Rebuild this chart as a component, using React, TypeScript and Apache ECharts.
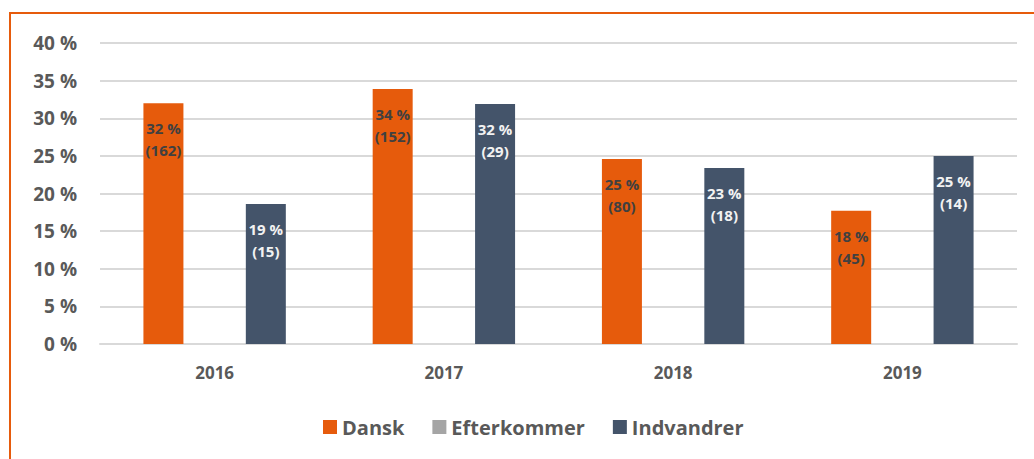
import React, { useEffect, useRef } from "react";
import * as echarts from "echarts";

const categories = ["2016", "2017", "2018", "2019"];
const seriesNames = ["Dansk", "Efterkommer", "Indvandrer"];
const danskValues = [32.0, 33.9, 24.6, 17.7];
const danskLabelPct = [32, 34, 25, 18];
const danskLabelN = [162, 152, 80, 45];
const efterkommerValues: (number | null)[] = [null, null, null, null];
const indvandrerValues = [18.6, 31.9, 23.4, 25.0];
const indvandrerLabelPct = [19, 32, 23, 25];
const indvandrerLabelN = [15, 29, 18, 14];
const yTicks = { min: 0, max: 40, interval: 5 };

const ORANGE = "#E65B0C";
const GREY = "#A5A5A5";
const SLATE = "#44546A";
const FONT = "'Open Sans', Lato, sans-serif";

export default function App() {
  const ref = useRef<HTMLDivElement>(null);
  useEffect(() => {
    document.body.style.margin = "0";
    if (!ref.current) return;
    const chart = echarts.init(ref.current, null, { renderer: "svg" });
    const labelStyle = (color: string, pct: number[], n: number[]) => ({
      show: true,
      position: "insideTop",
      distance: 14,
      color,
      fontFamily: FONT,
      fontWeight: "bold",
      fontSize: 15,
      lineHeight: 22,
      formatter: (p: any) => `${pct[p.dataIndex]} %\n(${n[p.dataIndex]})`,
    });
    chart.setOption({
      animation: false,
      backgroundColor: "#ffffff",
      textStyle: { fontFamily: FONT },
      grid: { left: 100, right: 17, top: 43, bottom: 115, containLabel: false },
      graphic: [
        {
          type: "rect",
          shape: { x: 10, y: 13, width: 1100, height: 600 },
          style: { fill: "none", stroke: ORANGE, lineWidth: 2 },
          silent: true,
        },
      ],
      legend: {
        data: seriesNames,
        bottom: 17,
        left: 318,
        itemWidth: 14,
        itemHeight: 14,
        itemGap: 28,
        icon: "rect",
        textStyle: { fontFamily: FONT, fontSize: 20, fontWeight: "bold", color: "#595959" },
      },
      xAxis: {
        type: "category",
        data: categories,
        axisLine: { lineStyle: { color: "#d9d9d9", width: 2 } },
        axisTick: { show: false },
        axisLabel: { color: "#595959", fontSize: 17, fontWeight: "bold", margin: 20, fontFamily: FONT },
      },
      yAxis: {
        type: "value",
        min: yTicks.min,
        max: yTicks.max,
        interval: yTicks.interval,
        axisLine: { show: false },
        axisTick: { show: false },
        splitLine: { lineStyle: { color: "#d9d9d9", width: 2 } },
        axisLabel: {
          formatter: "{value} %",
          color: "#595959",
          fontSize: 19,
          fontWeight: "bold",
          margin: 23,
          fontFamily: FONT,
        },
      },
      series: [
        {
          name: "Dansk",
          type: "bar",
          data: danskValues,
          barWidth: 40,
          barGap: "28%",
          itemStyle: { color: ORANGE },
          label: labelStyle("#404040", danskLabelPct, danskLabelN),
        },
        {
          name: "Efterkommer",
          type: "bar",
          data: efterkommerValues,
          barWidth: 40,
          barGap: "28%",
          itemStyle: { color: GREY },
        },
        {
          name: "Indvandrer",
          type: "bar",
          data: indvandrerValues,
          barWidth: 40,
          barGap: "28%",
          itemStyle: { color: SLATE },
          label: labelStyle("#f2f2f2", indvandrerLabelPct, indvandrerLabelN),
        },
      ],
    });
    return () => chart.dispose();
  }, []);
  return <div ref={ref} style={{ width: 1034, height: 459 }} />;
}
